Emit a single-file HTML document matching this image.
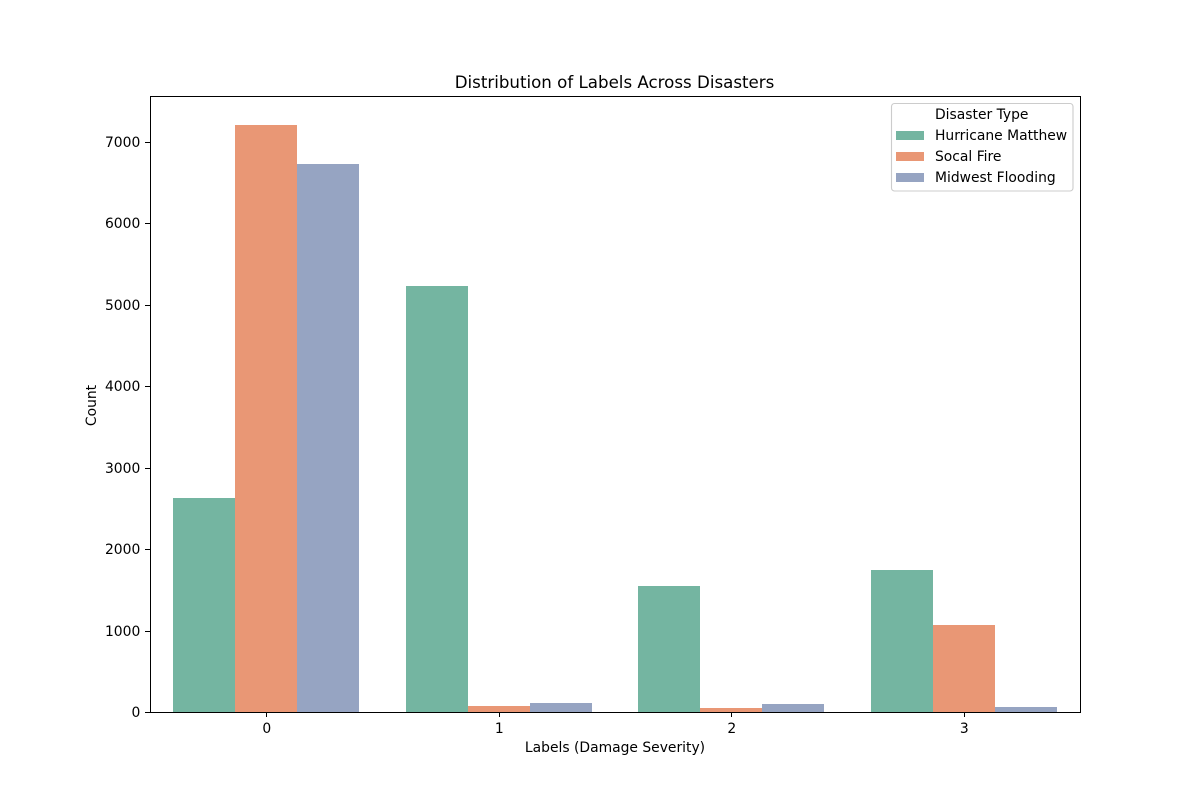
<!DOCTYPE html>
<html>
<head>
<meta charset="utf-8">
<title>Distribution of Labels Across Disasters</title>
<style>
html,body{margin:0;padding:0;background:#fff;}
svg{display:block;}
text{font-family:"DejaVu Sans","Liberation Sans",sans-serif;fill:#000;}
.crisp{shape-rendering:crispEdges;}
</style>
</head>
<body>
<svg id="chart" width="1200" height="800" viewBox="0 0 1200 800" xmlns="http://www.w3.org/2000/svg">
  <rect x="0" y="0" width="1200" height="800" fill="#ffffff"/>
  <g id="bars" class="crisp"></g>
  <g id="x-axis"></g>
  <g id="y-axis"></g>
  <rect class="crisp" x="150.5" y="96.5" width="930" height="616" fill="none" stroke="#000" stroke-width="1"/>
  <text x="614.5" y="88" font-size="16.67" text-anchor="middle">Distribution of Labels Across Disasters</text>
  <text x="615" y="752" font-size="13.89" text-anchor="middle">Labels (Damage Severity)</text>
  <text x="0" y="0" font-size="13.89" text-anchor="middle" transform="translate(96,405.5) rotate(-90)">Count</text>
  <g id="legend">
    <rect x="891.5" y="103.5" width="181.5" height="87.5" rx="3" ry="3" fill="#ffffff" fill-opacity="0.8" stroke="#cccccc" stroke-width="1.11"/>
    <text x="935" y="119" font-size="13.89">Disaster Type</text>
  </g>
</svg>
<script>
const categories = ["0", "1", "2", "3"];
const seriesNames = ["Hurricane Matthew", "Socal Fire", "Midwest Flooding"];
const hurricaneMatthew = [2630, 5230, 1547, 1744];
const socalFire = [7205, 75, 49, 1068];
const midwestFlooding = [6730, 110, 98, 61];
const yTickLabels = [0, 1000, 2000, 3000, 4000, 5000, 6000, 7000];

const seriesValues = [hurricaneMatthew, socalFire, midwestFlooding];
const seriesColors = ["#74b5a1", "#e99775", "#96a4c2"];
const NS = "http://www.w3.org/2000/svg";
const plot = { left: 150, right: 1080, top: 96, bottom: 712 };
const allValues = seriesValues.flat();
const yMax = Math.max.apply(null, allValues) * 1.05;
function xScale(v) {
  return plot.left + (v + 0.5) / categories.length * (plot.right - plot.left);
}
function yScale(v) {
  return plot.bottom - v / yMax * (plot.bottom - plot.top);
}
function make(tag, attrs, parent, text) {
  const el = document.createElementNS(NS, tag);
  Object.keys(attrs).forEach(function (k) { el.setAttribute(k, attrs[k]); });
  if (text !== undefined) el.textContent = text;
  parent.appendChild(el);
  return el;
}
const barsGroup = document.getElementById("bars");
const xGroup = document.getElementById("x-axis");
const yGroup = document.getElementById("y-axis");
const legendGroup = document.getElementById("legend");
const groupWidth = 0.8;
const barWidth = groupWidth / seriesNames.length;

seriesValues.forEach(function (values, s) {
  values.forEach(function (value, c) {
    const x0 = Math.round(xScale(c - groupWidth / 2 + s * barWidth));
    const x1 = Math.round(xScale(c - groupWidth / 2 + (s + 1) * barWidth));
    const y0 = Math.round(yScale(value));
    const bar = make("rect", { x: x0, y: y0, width: x1 - x0, height: plot.bottom - y0, fill: seriesColors[s] }, barsGroup);
    
    
  });
});

categories.forEach(function (label, c) {
  const x = xScale(c);
  const snapped = Math.round(x) + 0.5;
  const tick = make("line", { class: "crisp", x1: snapped, x2: snapped, y1: plot.bottom, y2: plot.bottom + 5, stroke: "#000", "stroke-width": 1 }, xGroup);
  
  
  const tickText = make("text", { x: x + 0.6, y: 733, "font-size": 13.89, "text-anchor": "middle" }, xGroup, label);
  
  
});

yTickLabels.forEach(function (label) {
  const y = yScale(label);
  const snapped = Math.round(y) + 0.5;
  const tick = make("line", { class: "crisp", x1: plot.left - 5, x2: plot.left, y1: snapped, y2: snapped, stroke: "#000", "stroke-width": 1 }, yGroup);
  
  
  const tickText = make("text", { x: 140.3, y: Math.round(y) + 5.2, "font-size": 13.89, "text-anchor": "end" }, yGroup, String(label));
  
  
});

seriesNames.forEach(function (name, s) {
  const rowTop = 131 + s * 21;
  const swatch = make("rect", { class: "crisp", x: 896, y: rowTop, width: 28, height: 9, fill: seriesColors[s] }, legendGroup);
  
  
  const entry = make("text", { x: 935, y: rowTop + 9, "font-size": 13.89 }, legendGroup, name);
  
  
});
</script>
</body>
</html>
